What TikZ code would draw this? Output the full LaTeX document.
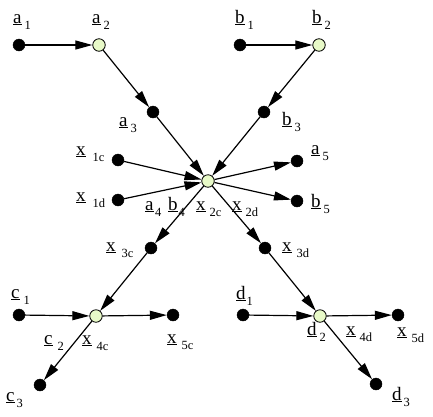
\documentclass[tikz,border=0pt]{standalone}
\usepackage{fontspec}
\setmainfont{Liberation Serif}
\usetikzlibrary{arrows.meta}
\definecolor{hubgreen}{RGB}{232,250,200}
\newcommand\lab[3][3pt]{\underline{#2}\kern#1\raisebox{-6.5pt}{\fontsize{12.5}{12.5}\selectfont #3}}
\tikzset{
  dot/.style={circle,fill=black,draw=black,inner sep=0pt,minimum size=12pt},
  hubdot/.style={circle,fill=hubgreen,draw=black,line width=0.8pt,inner sep=0pt,minimum size=12.5pt},
  lbl/.style={inner sep=0pt,anchor=base west,font=\fontsize{19}{19}\selectfont},
  conn/.style={line width=1.2pt,-{Triangle[length=17pt,width=9pt]}}
}
\begin{document}
\begin{tikzpicture}[x=1pt,y=-1pt]
\useasboundingbox (0,0) rectangle (433,416);
% nodes
\node[dot] (a1) at (19,45) {};
\node[hubdot] (a2) at (99,45) {};
\node[dot] (a3) at (153,112) {};
\node[dot] (b1) at (240,45) {};
\node[hubdot] (b2) at (319,45) {};
\node[dot] (b3) at (264,112) {};
\node[hubdot] (hub) at (208,181) {};
\node[dot] (x1c) at (118,160) {};
\node[dot] (x1d) at (118,200) {};
\node[dot] (a5) at (297,161) {};
\node[dot] (b5) at (297,201) {};
\node[dot] (x3c) at (151,248) {};
\node[dot] (x3d) at (265,248) {};
\node[dot] (c1) at (19,315) {};
\node[hubdot] (x4c) at (96,316) {};
\node[dot] (x5c) at (173,315) {};
\node[dot] (c3) at (40,385) {};
\node[dot] (d1) at (243,315) {};
\node[hubdot] (d2) at (320,316) {};
\node[dot] (x5d) at (398,315) {};
\node[dot] (d3) at (376,384) {};
% connectors
\draw[conn] (a1) -- (a2);
\draw[conn] (a2) -- (a3);
\draw[conn] (a3) -- (hub);
\draw[conn] (b1) -- (b2);
\draw[conn] (b2) -- (b3);
\draw[conn] (b3) -- (hub);
\draw[conn] (x1c) -- (hub);
\draw[conn] (x1d) -- (hub);
\draw[conn] (hub) -- (a5);
\draw[conn] (hub) -- (b5);
\draw[conn] (hub) -- (x3c);
\draw[conn] (hub) -- (x3d);
\draw[conn] (x3c) -- (x4c);
\draw[conn] (c1) -- (x4c);
\draw[conn] (x4c) -- (x5c);
\draw[conn] (x4c) -- (c3);
\draw[conn] (x3d) -- (d2);
\draw[conn] (d1) -- (d2);
\draw[conn] (d2) -- (x5d);
\draw[conn] (d2) -- (d3);
% labels
\node[lbl] (la1) at (13,23) {\lab{a}{1}};
\node[lbl] (la2) at (92,23) {\lab{a}{2}};
\node[lbl] (la3) at (119,126) {\lab{a}{3}};
\node[lbl] (lb1) at (235,23) {\lab{b}{1}};
\node[lbl] (lb2) at (312,23) {\lab{b}{2}};
\node[lbl] (lb3) at (282,125) {\lab{b}{3}};
\node[lbl] (lx1c) at (76,155) {\lab[7pt]{x}{1c}};
\node[lbl] (lx1d) at (76,201) {\lab[7pt]{x}{1d}};
\node[lbl] (la5) at (311,154) {\lab{a}{5}};
\node[lbl] (lb5) at (311,207) {\lab{b}{5}};
\node[lbl] (la4) at (145,210) {\lab[1.5pt]{a}{4}};
\node[lbl] (lb4) at (168,210) {\lab[1pt]{b}{4}};
\node[lbl] (lx2c) at (196,210) {\lab[4pt]{x}{2c}};
\node[lbl] (lx2d) at (232,210) {\lab[4pt]{x}{2d}};
\node[lbl] (lx3c) at (106,251) {\lab[6pt]{x}{3c}};
\node[lbl] (lx3d) at (282,251) {\lab[5pt]{x}{3d}};
\node[lbl] (lc1) at (11,298) {\lab[4pt]{c}{1}};
\node[lbl] (lc2) at (44,344) {\lab[5pt]{c}{2}};
\node[lbl] (lx4c) at (82,344) {\lab[5pt]{x}{4c}};
\node[lbl] (lc3) at (6,401) {\lab[2pt]{c}{3}};
\node[lbl] (lx5c) at (167,343) {\lab[5pt]{x}{5c}};
\node[lbl] (ld1) at (236,299) {\lab[1pt]{d}{1}};
\node[lbl] (ld2) at (307,335) {\lab[3pt]{d}{2}};
\node[lbl] (lx4d) at (346,335) {\lab[4pt]{x}{4d}};
\node[lbl] (lx5d) at (397,336) {\lab[5pt]{x}{5d}};
\node[lbl] (ld3) at (392,400) {\lab[2pt]{d}{3}};
\end{tikzpicture}
\end{document}
